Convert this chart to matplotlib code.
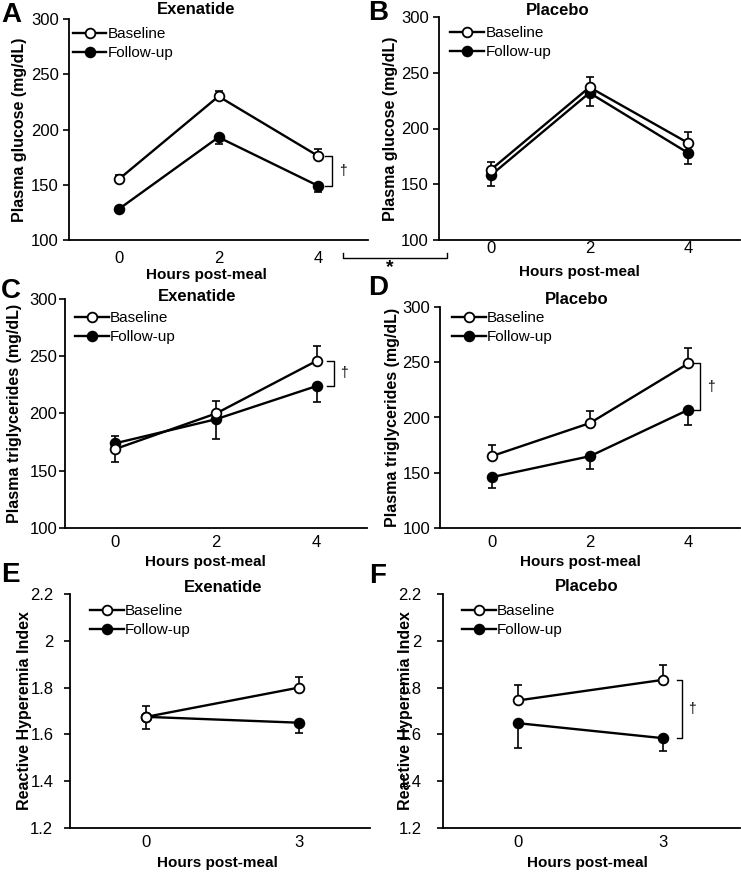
import matplotlib
matplotlib.use('Agg')
import matplotlib.pyplot as plt
from matplotlib.lines import Line2D

plt.rcParams['font.family'] = ['Liberation Sans', 'DejaVu Sans']

# time points (hours post-meal)
hours_lipid = [0, 2, 4]
hours_rhi = [0, 3]

# plasma glucose (mg/dL)
glu_exe_base = [155, 230, 176]
glu_exe_base_err = [4, 5, 6]
glu_exe_fu = [128, 193, 149]
glu_exe_fu_err = [3, 6, 6]
glu_pla_base = [163, 237, 187]
glu_pla_base_err = [7, 9, 10]
glu_pla_fu = [158, 232, 178]
glu_pla_fu_err = [10, 12, 10]

# plasma triglycerides (mg/dL)
tg_exe_base = [169, 200, 246]
tg_exe_base_err = [11, 11, 13]
tg_exe_fu = [174, 195, 224]
tg_exe_fu_err = [16, 17, 14]
tg_pla_base = [165, 195, 249]
tg_pla_base_err = [10, 11, 14]
tg_pla_fu = [146, 165, 207]
tg_pla_fu_err = [10, 12, 14]

# reactive hyperemia index
rhi_exe_base = [1.675, 1.80]
rhi_exe_base_err = [0.045, 0.045]
rhi_exe_fu = [1.675, 1.65]
rhi_exe_fu_err = [0.052, 0.043]
rhi_pla_base = [1.745, 1.833]
rhi_pla_base_err = [0.064, 0.064]
rhi_pla_fu = [1.648, 1.584]
rhi_pla_fu_err = [0.104, 0.053]

glu_ticks = [100, 150, 200, 250, 300]
rhi_ticks = [1.2, 1.4, 1.6, 1.8, 2.0, 2.2]

W, H = 741, 873
fig = plt.figure(figsize=(W / 100, H / 100), dpi=100)


def px_rect(l, r, t, b):
    return [l / W, 1 - b / H, (r - l) / W, (b - t) / H]


def panel(rect, x, base, base_err, fu, fu_err, xlim, yticks, ylabel, title,
          title_xy, xlab_xy, ylab_x, leg_xy, pads, bracket=None):
    ax = fig.add_axes(px_rect(*rect))
    zeros = [0] * len(x)
    ax.errorbar(x, fu, yerr=[fu_err, zeros], fmt='none', ecolor='black',
                elinewidth=1.2, capsize=3, capthick=1.2, zorder=2)
    ax.errorbar(x, base, yerr=[zeros, base_err], fmt='none', ecolor='black',
                elinewidth=1.2, capsize=3, capthick=1.2, zorder=2)
    ax.plot(x, base, '-o', color='black', lw=1.7, ms=7, mfc='white',
            mec='black', mew=1.3, label='Baseline', zorder=4)
    ax.plot(x, fu, '-o', color='black', lw=1.7, ms=7, mfc='black',
            mec='black', mew=1.3, label='Follow-up', zorder=3)

    ax.set_xlim(*xlim)
    ax.set_ylim(yticks[0], yticks[-1])
    ax.set_xticks(x)
    ax.set_yticks(yticks)
    ax.set_yticklabels(['%g' % t for t in yticks])
    ax.tick_params(axis='x', length=0, pad=pads[0], labelsize=12)
    ax.tick_params(axis='y', length=4, width=1.2, pad=pads[1], labelsize=12)
    for s in ['top', 'right']:
        ax.spines[s].set_visible(False)
    for s in ['left', 'bottom']:
        ax.spines[s].set_linewidth(1.3)

    ax.set_xlabel('Hours post-meal', fontsize=11, fontweight='bold')
    ax.xaxis.set_label_coords(*xlab_xy)
    ax.set_ylabel(ylabel, fontsize=11.5, fontweight='bold')
    ax.yaxis.set_label_coords(ylab_x, 0.5)
    ax.text(title_xy[0], title_xy[1], title, transform=ax.transAxes,
            ha='center', va='center', fontsize=12, fontweight='bold')

    ax.legend(loc='upper left', bbox_to_anchor=leg_xy, frameon=False,
              borderpad=0, borderaxespad=0, handlelength=2.2,
              handletextpad=0.1, labelspacing=0.35, fontsize=11)

    if bracket is not None:
        off, tick, doff = bracket
        bx = x[-1] + off
        y1, y2 = base[-1], fu[-1]
        ax.plot([bx - tick, bx, bx, bx - tick], [y1, y1, y2, y2],
                color='black', lw=1.0, clip_on=False)
        ax.text(bx + doff, (y1 + y2) / 2, '\u2020', ha='center',
                va='center', fontsize=10)
    return ax


glu_label = 'Plasma glucose (mg/dL)'
tg_label = 'Plasma triglycerides (mg/dL)'
rhi_label = 'Reactive Hyperemia Index'

panel((69, 368, 19, 240), hours_lipid, glu_exe_base, glu_exe_base_err,
      glu_exe_fu, glu_exe_fu_err, (-1, 5), glu_ticks, glu_label, 'Exenatide',
      (0.425, 1.045), (0.46, -0.127), -0.14, (0.013, 0.964), (8, 3.5),
      bracket=(0.28, 0.14, 0.22))
panel((439, 740, 17, 240), hours_lipid, glu_pla_base, glu_pla_base_err,
      glu_pla_fu, glu_pla_fu_err, (-1.05, 5.05), glu_ticks, glu_label,
      'Placebo', (0.395, 1.031), (0.468, -0.11), -0.136, (0.037, 0.96),
      (1, 3.5))
panel((65, 367, 299, 528), hours_lipid, tg_exe_base, tg_exe_base_err,
      tg_exe_fu, tg_exe_fu_err, (-1, 5), glu_ticks, tg_label, 'Exenatide',
      (0.437, 1.009), (0.464, -0.118), -0.142, (0.033, 0.948), (5, 1.5),
      bracket=(0.34, 0.14, 0.2))
panel((440, 740, 307, 528), hours_lipid, tg_pla_base, tg_pla_base_err,
      tg_pla_fu, tg_pla_fu_err, (-1.05, 5.05), glu_ticks, tg_label, 'Placebo',
      (0.457, 1.032), (0.467, -0.122), -0.133, (0.04, 0.982), (5, 3),
      bracket=(0.24, 0.14, 0.22))
panel((70, 370, 594, 828), hours_rhi, rhi_exe_base, rhi_exe_base_err,
      rhi_exe_fu, rhi_exe_fu_err, (-1.5, 4.4), rhi_ticks, rhi_label,
      'Exenatide', (0.51, 1.026), (0.49, -0.12), -0.127, (0.067, 0.957),
      (5, 8))
panel((443, 740, 594, 828), hours_rhi, rhi_pla_base, rhi_pla_base_err,
      rhi_pla_fu, rhi_pla_fu_err, (-1.55, 4.6), rhi_ticks, rhi_label,
      'Placebo', (0.485, 1.03), (0.488, -0.12), -0.101, (0.064, 0.957),
      (5, 11.5), bracket=(0.39, 0.1, 0.21))

# panel letters
for letter, px, py in [('A', 11, 15), ('B', 378, 13), ('C', 11, 291),
                       ('D', 378, 288), ('E', 10, 575), ('F', 378, 576)]:
    fig.text(px / W, 1 - py / H, letter, ha='center', va='center',
             fontsize=20, fontweight='bold')

# bracket comparing exenatide vs placebo glucose change
bx = [343 / W, 343 / W, 447 / W, 447 / W]
by = [1 - 253 / H, 1 - 258 / H, 1 - 258 / H, 1 - 253 / H]
fig.add_artist(Line2D(bx, by, color='black', lw=1.0, transform=fig.transFigure))
fig.text(390 / W, 1 - 268 / H, '*', ha='center', va='center', fontsize=14,
         fontweight='bold')

fig.savefig('out.png', dpi=100)
